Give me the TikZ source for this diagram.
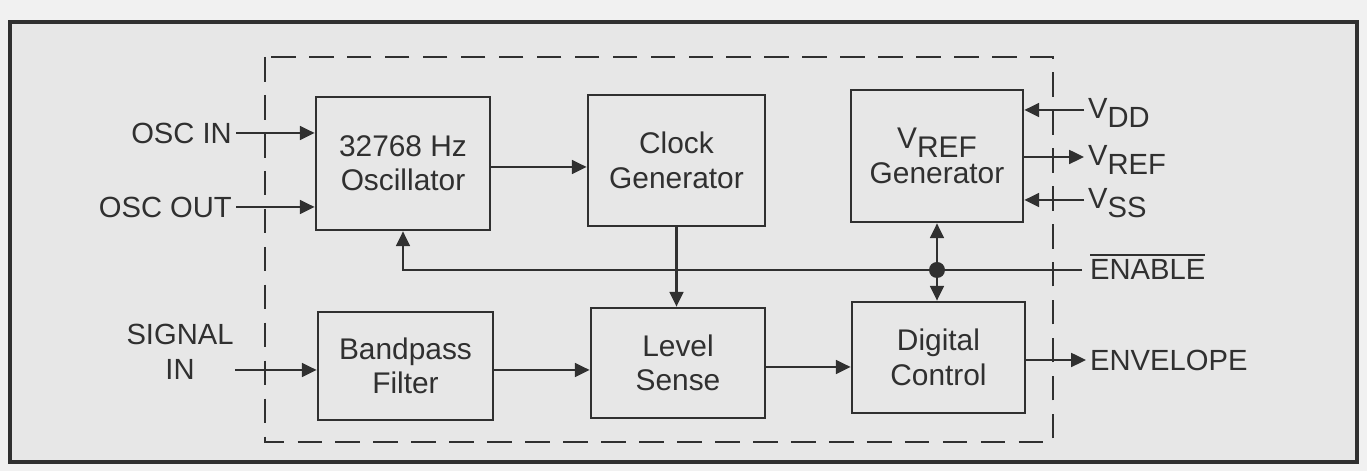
\documentclass[tikz,border=0pt]{standalone}
\usepackage{fontspec}
\setmainfont{Liberation Sans}
\usetikzlibrary{arrows.meta}
\definecolor{trait}{HTML}{303030}
\definecolor{fond}{HTML}{E7E7E7}
\definecolor{papier}{HTML}{F1F1F1}
\newcommand{\bas}[1]{\raisebox{-0.55ex}{#1}}

\begin{document}
\begin{tikzpicture}[
	>={Triangle[length=4.2pt,width=3.9pt]},
	bloc/.style={draw=trait, line width=0.75pt, fill=fond, text=trait, align=center, inner sep=0pt, font=\fontsize{8.5}{9.8}\selectfont},
	lbl/.style={inner sep=1pt, text=trait, align=center, font=\fontsize{8.3}{9.8}\selectfont},
	fil/.style={draw=trait, line width=0.75pt},
	]
	\useasboundingbox (0,0) rectangle (13.67,-4.71);
	\fill[papier] (0,0) rectangle (13.67,-4.71);
	\draw[trait, line width=1pt, fill=fond] (0.10,-0.22) rectangle (13.57,-4.62);

	% boite en pointilles
	\draw[trait, line width=0.8pt, dash pattern=on 7pt off 3.8pt] (2.65,-0.57) rectangle (10.53,-4.42);

	% blocs du haut
	\node[bloc, minimum width=1.74cm, minimum height=1.33cm] (osc) at (4.03,-1.635) {32768 Hz\\Oscillator};
	\node[bloc, minimum width=1.77cm, minimum height=1.31cm] (clk) at (6.765,-1.605) {Clock\\Generator};
	\node[bloc, minimum width=1.72cm, minimum height=1.32cm] (vref) at (9.37,-1.56) {V\bas{REF}\\Generator};

	% blocs du bas
	\node[bloc, minimum width=1.75cm, minimum height=1.08cm] (bpf) at (4.055,-3.66) {Bandpass\\Filter};
	\node[bloc, minimum width=1.74cm, minimum height=1.10cm] (lvl) at (6.78,-3.63) {Level\\Sense};
	\node[bloc, minimum width=1.73cm, minimum height=1.11cm] (dc) at (9.385,-3.575) {Digital\\Control};

	% entrees a gauche
	\node[lbl, anchor=east] (oscin) at (2.36,-1.33) {OSC IN};
	\node[lbl, anchor=east] (oscout) at (2.36,-2.07) {OSC OUT};
	\node[lbl] (sigin) at (1.80,-3.52) {SIGNAL\\IN};
	\coordinate (sig) at (2.35,-3.70);

	\draw[fil,->] (oscin.east) -- (osc.west |- oscin.east);
	\draw[fil,->] (oscout.east) -- (osc.west |- oscout.east);
	\draw[fil,->] (sig) -- (bpf.west |- sig);

	% liaisons internes
	\draw[fil,->] (osc.east |- 0,-1.67) -- (clk.west |- 0,-1.67);
	\draw[fil,->] (clk.south) -- (clk.south |- lvl.north);
	\draw[fil,->] (bpf.east |- 0,-3.70) -- (lvl.west |- 0,-3.70);
	\draw[fil,->] (lvl.east |- 0,-3.67) -- (dc.west |- 0,-3.67);

	% broches a droite
	\node[lbl, anchor=west] (vdd) at (10.84,-1.13) {V\bas{DD}};
	\node[lbl, anchor=west] (vrefout) at (10.84,-1.60) {V\bas{REF}};
	\node[lbl, anchor=west] (vss) at (10.84,-2.03) {V\bas{SS}};
	\node[lbl, anchor=base west] (enable) at (10.86,-2.80) {$\overline{\mbox{ENABLE}}$};
	\node[lbl, anchor=west] (env) at (10.86,-3.60) {ENVELOPE};
	\coordinate (en) at (10.82,-2.70);

	\draw[fil,->] (vdd.west |- 0,-1.10) -- (vref.east |- 0,-1.10);
	\draw[fil,->] (vref.east |- 0,-1.57) -- (vrefout.west |- 0,-1.57);
	\draw[fil,->] (vss.west |- 0,-2.00) -- (vref.east |- 0,-2.00);
	\draw[fil,->] (dc.east |- env.west) -- (env.west);

	% retour ENABLE
	\coordinate (dot) at (vref.south |- en);
	\draw[fil,->] (en) -- (osc.south |- en) -- (osc.south);
	\draw[fil,<->] (vref.south) -- (vref.south |- dc.north);
	\fill[trait] (dot) circle (0.08);
\end{tikzpicture}
\end{document}
